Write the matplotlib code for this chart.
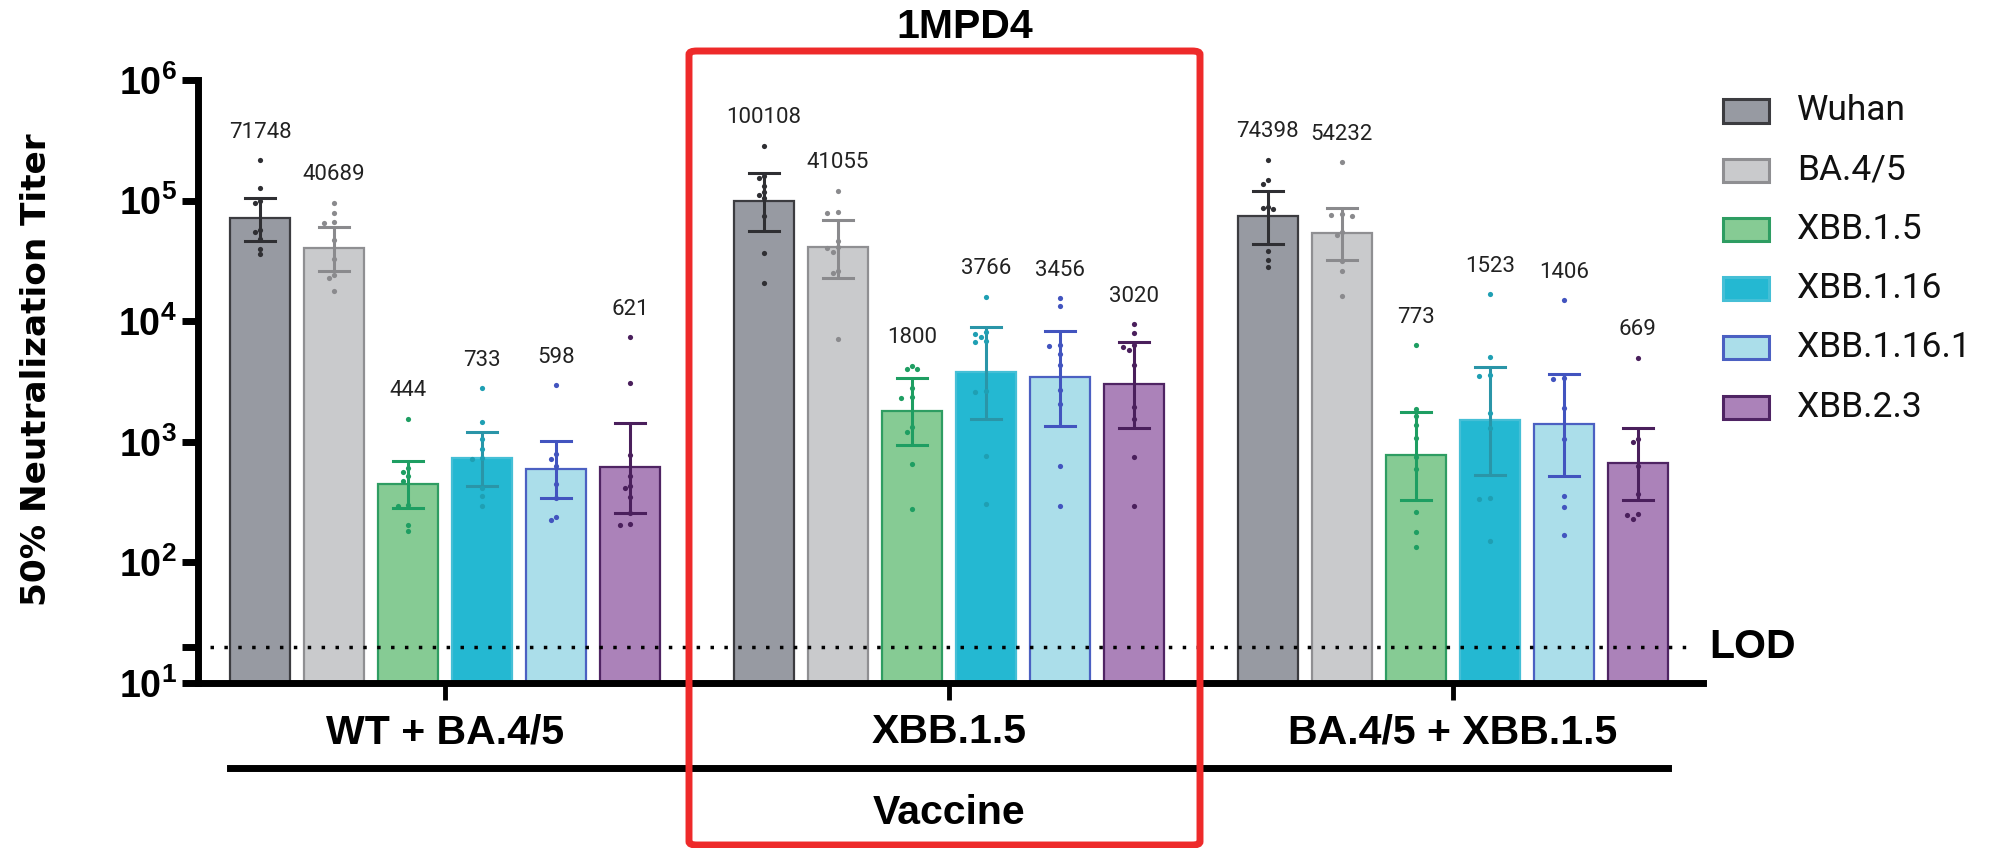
import numpy as np
import matplotlib
matplotlib.use("Agg")
import matplotlib.pyplot as plt
from matplotlib.patches import Rectangle, FancyBboxPatch
from matplotlib.lines import Line2D
from matplotlib.ticker import NullLocator
import matplotlib.transforms as mtransforms

plt.rcParams['mathtext.fontset'] = 'custom'
plt.rcParams['mathtext.rm'] = 'Liberation Sans:bold'
plt.rcParams['mathtext.it'] = 'Liberation Sans:bold'
plt.rcParams['mathtext.bf'] = 'Liberation Sans:bold'

# ---- data ----
groups = ['WT + BA.4/5', 'XBB.1.5', 'BA.4/5 + XBB.1.5']
variants = ['Wuhan', 'BA.4/5', 'XBB.1.5', 'XBB.1.16', 'XBB.1.16.1', 'XBB.2.3']

gmt_wt_ba45 = [71748, 40689, 444, 733, 598, 621]
gmt_xbb15 = [100108, 41055, 1800, 3766, 3456, 3020]
gmt_ba45_xbb15 = [74398, 54232, 773, 1523, 1406, 669]

err_wt_ba45 = [(46500, 105000), (26200, 60000), (282, 687), (430, 1200), (341, 1020), (259, 1420)]
err_xbb15 = [(56000, 168000), (22800, 69500), (940, 3360), (1540, 8900), (1360, 8330), (1300, 6760)]
err_ba45_xbb15 = [(43400, 119000), (32000, 87000), (327, 1780), (533, 4170), (525, 3670), (331, 1310)]

pts_wt_ba45 = [
    [217000, 128000, 99000, 95000, 57000, 55000, 48000, 40000, 36000],
    [96000, 78500, 67000, 65000, 47000, 33000, 24000, 23000, 17900],
    [1560, 610, 560, 520, 470, 300, 295, 205, 182],
    [2770, 1450, 1050, 870, 740, 720, 410, 357, 295],
    [2950, 790, 720, 630, 447, 340, 236, 225],
    [7350, 3100, 776, 525, 431, 417, 346, 259, 207, 205],
]
pts_xbb15 = [
    [285000, 161000, 155000, 132000, 117000, 112000, 105000, 75000, 36700, 20600],
    [121000, 81000, 79000, 46500, 41400, 40500, 37600, 26300, 25100, 7100],
    [4260, 3980, 3980, 2770, 2360, 2300, 1320, 1200, 660, 276],
    [16000, 8070, 7900, 7340, 6890, 6700, 2630, 2570, 760, 304],
    [15500, 13400, 6300, 6200, 5330, 4360, 2690, 2060, 630, 296],
    [9460, 7950, 6300, 6100, 5760, 4360, 1930, 1540, 742, 296],
]
pts_ba45_xbb15 = [
    [219000, 148000, 136000, 89000, 86000, 84700, 38000, 32300, 27900],
    [209000, 77000, 76000, 75000, 55000, 51500, 31600, 26000, 16100],
    [6300, 1880, 1640, 1380, 1070, 753, 590, 261, 180, 133],
    [16700, 5070, 3600, 3500, 1730, 1300, 339, 335, 151],
    [14900, 3390, 3300, 1920, 1060, 355, 290, 168],
    [4980, 1060, 990, 630, 372, 251, 245, 228],
]
lod = 20

gmts = [gmt_wt_ba45, gmt_xbb15, gmt_ba45_xbb15]
errs = [err_wt_ba45, err_xbb15, err_ba45_xbb15]
pts = [pts_wt_ba45, pts_xbb15, pts_ba45_xbb15]

# ---- styles ----
fills = ['#979aa2', '#c9cacc', '#86cb94', '#24b8d2', '#abdeea', '#ab82b9']
edges = ['#3c3c40', '#8f8f92', '#2e9d62', '#45bfd6', '#4b60c2', '#4f2463']
dots = ['#2f2f33', '#8a8a8d', '#1e9e62', '#1f9fb3', '#4254bf', '#4a1f5c']
errc = ['#2f2f33', '#8a8a8d', '#1e9e62', '#2a95a8', '#4254bf', '#4a1f5c']

group_gap = 6.81
bar_w = 0.81
px_per_unit = 74.0
px_per_decade = 120.6


def swarm(vals, r=5.5):
    # simple deterministic beeswarm, offsets in data units
    order = np.argsort(vals)[::-1]
    placed = []
    offs = np.zeros(len(vals))
    for i in order:
        y = np.log10(vals[i]) * px_per_decade
        for k in [0, -1, 1, -2, 2, -3, 3]:
            x = k * r * 0.95
            if all((x - a) ** 2 + (y - b) ** 2 >= r ** 2 for a, b in placed):
                break
        placed.append((x, y))
        offs[i] = x / px_per_unit
    return offs


fig = plt.figure(figsize=(19.9, 8.48), dpi=100)
ax = fig.add_axes([198 / 1990, 1 - 683 / 848, 1505 / 1990, 603 / 848])
ax.set_yscale('log')
ax.set_ylim(10, 1e6)
ax.set_xlim(-3.338, 17.0)

centers = [g * group_gap for g in range(len(groups))]
for g, c in enumerate(centers):
    for i in range(len(variants)):
        x = c + (i - 2.5)
        v = gmts[g][i]
        ax.bar(x, v - 10, bottom=10, width=bar_w, color=fills[i],
               edgecolor=edges[i], linewidth=1.6, zorder=2)
        lo, hi = errs[g][i]
        ax.plot([x, x], [lo, hi], color=errc[i], lw=2.2, zorder=4, solid_capstyle='butt')
        for yy in (lo, hi):
            ax.plot([x - 0.2, x + 0.2], [yy, yy], color=errc[i], lw=2.2, zorder=4)
        p = np.array(pts[g][i], dtype=float)
        ax.scatter(x + swarm(p), p, s=14, color=dots[i], zorder=5, linewidths=0)
        ax.text(x, p.max() * 10 ** 0.232, str(v), ha='center', va='center',
                fontsize=16, family='Roboto', color='#222222')

# LOD
ax.axhline(lod, xmin=0.008, xmax=0.995, color='black', lw=2.5,
           linestyle=(0, (1, 3)), zorder=6)
trans_lod = mtransforms.blended_transform_factory(ax.transAxes, ax.transData)
ax.text(1.004, lod, 'LOD', transform=trans_lod, ha='left', va='center',
        fontsize=29.5, fontweight='bold', family='Liberation Sans')

# axes styling
for s in ['top', 'right']:
    ax.spines[s].set_visible(False)
for s in ['left', 'bottom']:
    ax.spines[s].set_linewidth(5)
ax.set_yticks([10, 20, 1e2, 1e3, 1e4, 1e5, 1e6])
ax.set_yticklabels([r'$10^{1}$', '', r'$10^{2}$', r'$10^{3}$', r'$10^{4}$',
                    r'$10^{5}$', r'$10^{6}$'], fontsize=27)
ax.yaxis.set_minor_locator(NullLocator())
ax.tick_params(axis='y', length=11.5, width=5, pad=4)
ax.set_xticks(centers)
ax.set_xticklabels([])
ax.tick_params(axis='x', length=12, width=3.5)

# group labels, underline, vaccine label
tr = mtransforms.blended_transform_factory(ax.transData, fig.transFigure)
for c, name in zip(centers, groups):
    ax.text(c, 1 - 732 / 848, name, transform=tr, ha='center', va='center',
            fontsize=29.5, fontweight='bold', family='Liberation Sans', clip_on=False)
x_first = centers[0] - 2.5 - bar_w / 2
x_last = centers[-1] + 2.5 + bar_w / 2
fig.add_artist(Line2D([x_first, x_last], [1 - 768 / 848] * 2, transform=tr,
                      color='black', lw=5))
ax.text(centers[1], 1 - 813 / 848, 'Vaccine', transform=tr, ha='center', va='center',
        fontsize=29.5, fontweight='bold', family='Liberation Sans', clip_on=False)

# y label
fig.text(37 / 1990, 1 - 370 / 848, '50% Neutralization Titer', rotation=90,
         ha='center', va='center', fontsize=24.7, fontweight='bold', family='DejaVu Sans')

# red highlight box and title
box = FancyBboxPatch((689 / 1990, 1 - 845 / 848), (1200 - 689) / 1990, (845 - 51) / 848,
                     boxstyle='round,pad=0,rounding_size=0.004',
                     transform=fig.transFigure, fill=False, edgecolor='#ee2a2a', lw=5,
                     zorder=10)
fig.add_artist(box)
fig.text(965 / 1990, 1 - 27 / 848, '1MPD4', ha='center', va='center',
         fontsize=29.5, fontweight='bold', family='Liberation Sans')

# legend
for i, name in enumerate(variants):
    yc = 111 + i * 59.2
    fig.add_artist(Rectangle((1723 / 1990, 1 - (yc + 11.5) / 848), 46 / 1990, 23 / 848,
                             transform=fig.transFigure, facecolor=fills[i],
                             edgecolor=edges[i], lw=2.2))
    fig.text(1797 / 1990, 1 - yc / 848, name, ha='left', va='center',
             fontsize=25.5, family='Roboto', color='#111111')

fig.savefig('out.png', dpi=100)
